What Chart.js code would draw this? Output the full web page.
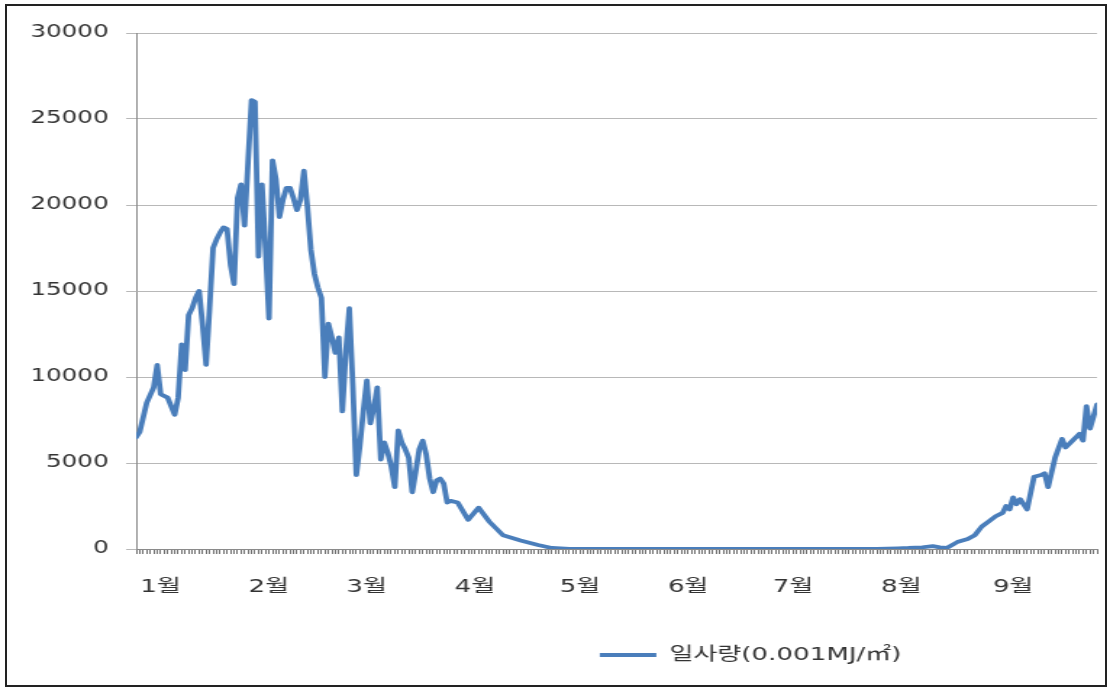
<!DOCTYPE html>
<html>
<head>
<meta charset="utf-8">
<script src="https://cdn.jsdelivr.net/npm/chart.js@4.4.1/dist/chart.umd.min.js"></script>
<style>
  html, body { margin: 0; padding: 0; background: #fff; }
  /* the chart is laid out narrow and widened, so the lettering comes out broad */
  #wide { position: absolute; left: 0; top: 0; width: 766px; height: 689px; transform: scaleX(1.4491); transform-origin: 0 0; }
  #frame { position: absolute; left: 5px; top: 4px; width: 1102px; height: 683px; border: 2px solid #222; box-sizing: border-box; pointer-events: none; }
</style>
</head>
<body>
<div id="wide"><canvas id="chart" width="766" height="689"></canvas></div>
<div id="frame"></div>
<script>
// day number from the start of the series
const days = [
  0, 1, 3, 5, 6, 7, 9, 11, 12, 13, 14, 15, 16, 17, 18, 19, 20, 21, 22, 23,
  24, 25, 26, 27, 28, 29, 30, 31, 32, 33, 34, 35, 36, 37, 38, 39, 40, 41, 42, 43,
  44, 45, 46, 47, 48, 49, 50, 51, 52, 53, 54, 55, 56, 57, 58, 59, 60, 61, 62, 63,
  64, 65, 66, 67, 68, 69, 70, 71, 72, 73, 74, 75, 76, 77, 78, 79, 80, 81, 82, 83,
  84, 85, 86, 87, 88, 89, 90, 92, 95, 98, 101, 105, 110, 115, 119, 124,
  212, 218, 221, 225, 228, 230, 232, 235, 238, 240, 242, 244, 246, 248, 249, 250,
  251, 252, 253, 255, 257, 259, 260, 261, 263, 265, 266, 268, 270, 271, 272, 273, 275
];

// 일사량, 0.001MJ/㎡
const radiation = [
  6500, 6800, 8500, 9400, 10700, 9000, 8800, 7800, 8800, 11900, 10400, 13600, 14000, 14600, 15000, 13000, 10700, 14000, 17500, 18000,
  18400, 18700, 18600, 16500, 15400, 20400, 21200, 18800, 22500, 26100, 26000, 17000, 21200, 17500, 13400, 22600, 21500, 19300, 20300, 21000,
  21000, 20400, 19700, 20300, 22000, 19900, 17400, 16000, 15200, 14600, 10000, 13100, 12300, 11400, 12300, 8000, 11500, 14000, 9500, 4300,
  6000, 8000, 9800, 7300, 8200, 9400, 5200, 6200, 5600, 4800, 3600, 6900, 6200, 5800, 5300, 3300, 4500, 5800, 6300, 5500,
  4100, 3300, 4000, 4100, 3800, 2700, 2800, 2700, 1700, 2400, 1600, 800, 500, 230, 60, 0,
  0, 40, 60, 100, 170, 90, 60, 400, 580, 800, 1300, 1600, 1900, 2100, 2500, 2300,
  3000, 2600, 2900, 2300, 4200, 4300, 4400, 3600, 5300, 6400, 5900, 6300, 6700, 6300, 8300, 7000, 8400
];

const monthDays = [7, 38, 66, 97, 127, 158, 188, 219, 251];
const monthLabels = ['1월', '2월', '3월', '4월', '5월', '6월', '7월', '8월', '9월'];

const seriesLabel = '일사량(0.001MJ/㎡)';
const lineColor = '#4a7ebb';
const textColor = '#333333';

Chart.defaults.font.family = '"DejaVu Sans", "Noto Sans CJK KR", sans-serif';
Chart.defaults.color = textColor;

// move the legend to the right of the centre
const legendOffset = {
  id: 'legendOffset',
  afterLayout(chart) {
    const lg = chart.legend;
    const dx = 518 - (lg.left + lg.right) / 2;
    lg.left += dx;
    lg.right += dx;
  }
};

new Chart(document.getElementById('chart'), {
  type: 'line',
  data: {
    datasets: [{
      label: seriesLabel,
      data: days.map((d, i) => ({ x: d, y: radiation[i] })),
      borderColor: lineColor,
      backgroundColor: lineColor,
      borderWidth: 3.8,
      borderJoinStyle: 'round',
      borderCapStyle: 'round',
      pointRadius: 0,
      tension: 0
    }]
  },
  options: {
    responsive: false,
    animation: false,
    layout: { padding: { top: 33, right: 9, bottom: 15, left: 0 } },
    scales: {
      x: {
        type: 'linear',
        min: 0,
        max: 275,
        ticks: {
          stepSize: 1,
          autoSkip: false,
          maxRotation: 0,
          padding: 23,
          font: { size: 18 },
          callback: v => {
            const i = monthDays.indexOf(v);
            return i < 0 ? '' : monthLabels[i];
          }
        },
        grid: { drawOnChartArea: false, tickLength: 5, color: '#707070' },
        border: { color: '#8a8a8a', width: 1 },
        afterFit: s => {
          s.height = 87;
          s.paddingLeft = 0;
          s.paddingRight = 0;
        }
      },
      y: {
        min: 0,
        max: 30000,
        ticks: {
          stepSize: 5000,
          padding: 12,
          font: { size: 17 },
          format: { useGrouping: false }
        },
        grid: { color: '#b8b8b8', tickLength: 7 },
        border: { color: '#8a8a8a', width: 1 },
        afterFit: s => { s.width = 94; }
      }
    },
    plugins: {
      legend: {
        position: 'bottom',
        labels: {
          usePointStyle: true,
          pointStyle: 'line',
          pointStyleWidth: 39,
          padding: 10,
          color: textColor,
          font: { size: 18 }
        }
      },
      tooltip: { enabled: false }
    }
  },
  plugins: [legendOffset]
});
</script>
</body>
</html>
